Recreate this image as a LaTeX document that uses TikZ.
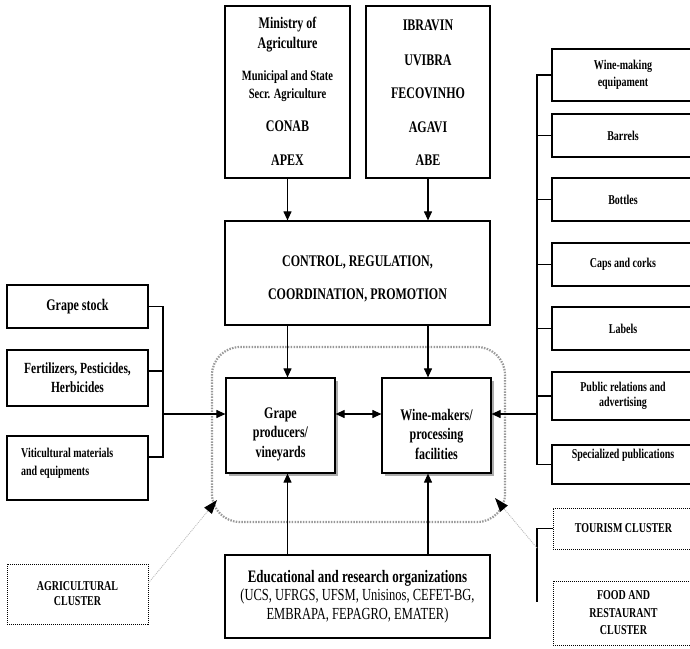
\documentclass[tikz,border=0pt]{standalone}
\usepackage{fontspec}
\setmainfont{Liberation Serif}[FakeStretch=0.74]
\usetikzlibrary{arrows.meta,shadows,calc}
\begin{document}
\begin{tikzpicture}[x=1pt,y=-1pt,
  box/.style={draw,line width=1.2pt,fill=white,inner sep=0pt,align=center},
  tx/.style={inner sep=0pt,align=center},
  ln/.style={line width=1.1pt},
  arr/.style={line width=1.1pt,-{Triangle[length=9pt,width=8pt]}},
  darr/.style={line width=1.1pt,{Triangle[length=9pt,width=8pt]}-{Triangle[length=9pt,width=8pt]}},
  clbox/.style={draw,line width=0.9pt,dash pattern=on 1pt off 1pt,inner sep=0pt,align=center},
  clline/.style={draw=gray!55,line width=0.8pt,dash pattern=on 1pt off 1pt},
  shad/.style={drop shadow={shadow xshift=2.5pt,shadow yshift=-2.5pt,fill=gray!65,opacity=1}},
  fa/.style={font=\fontsize{16.2}{18}\selectfont\bfseries},
  fb/.style={font=\fontsize{14.2}{16}\selectfont\bfseries},
  fr/.style={font=\fontsize{13.5}{15.5}\selectfont\bfseries},
]
\useasboundingbox (0,0) rectangle (690,648);
\clip (0,0) rectangle (690,648);

% cluster outline
\node[draw=black!40,line width=2.2pt,dash pattern=on 1.5pt off 1.3pt,rounded corners=28pt,
      minimum width=293pt,minimum height=175pt,inner sep=0pt] (core) at (358.5,434.5) {};

% top boxes
\node[box,minimum width=125pt,minimum height=172pt] (min) at (287.5,92) {};
\node[tx,fa] (m1) at (287.5,25) {Ministry of};
\node[tx,fa] (m2) at (287.5,45) {Agriculture};
\node[tx,fb] (m3) at (287.5,77) {Municipal and State};
\node[tx,fb] (m4) at (287.5,95) {Secr. Agriculture};
\node[tx,fa] (m5) at (287.5,126) {CONAB};
\node[tx,fa] (m6) at (287.5,160) {APEX};

\node[box,minimum width=124pt,minimum height=172pt] (ibr) at (428,92) {};
\node[tx,fa] (i1) at (428,25) {IBRAVIN};
\node[tx,fa] (i2) at (428,60) {UVIBRA};
\node[tx,fa] (i3) at (428,93) {FECOVINHO};
\node[tx,fa] (i4) at (428,127) {AGAVI};
\node[tx,fa] (i5) at (428,160) {ABE};

% control
\node[box,minimum width=265pt,minimum height=104pt] (ctrl) at (357.5,273) {};
\node[tx,font=\fontsize{16.2}{33}\selectfont\bfseries] (ctrlt) at (357.5,279)
  {CONTROL, REGULATION,\\COORDINATION, PROMOTION};

% core boxes
\node[box,shad,minimum width=109pt,minimum height=95pt] (grape) at (280.5,425.5) {};
\node[tx,font=\fontsize{16.2}{19.5}\selectfont\bfseries] (grapet) at (280.5,434) {Grape\\producers/\\vineyards};
\node[box,shad,minimum width=109pt,minimum height=95pt] (wine) at (436.5,425.5) {};
\node[tx,font=\fontsize{16.2}{19.5}\selectfont\bfseries] (winet) at (436.5,434) {Wine-makers/\\processing\\facilities};

% left boxes
\node[box,minimum width=141pt,minimum height=43pt,font=\fontsize{16.2}{18}\selectfont\bfseries] (stock) at (77.5,306.5) {Grape stock};
\node[box,minimum width=141pt,minimum height=56pt,font=\fontsize{15.5}{19}\selectfont\bfseries] (fert) at (77.5,378) {Fertilizers, Pesticides,\\Herbicides};
\node[box,minimum width=141pt,minimum height=64pt] (viti) at (77.5,468) {};
\node[tx,align=left,anchor=west,font=\fontsize{13.5}{18}\selectfont\bfseries] (vitit) at (21,463) {Viticultural materials\\and equipments};

% right boxes
\node[box,minimum width=142pt,minimum height=52pt,font=\fontsize{13.5}{17}\selectfont\bfseries] (r1) at (623,75) {Wine-making\\equipament};
\node[box,minimum width=142pt,minimum height=43pt,fr] (r2) at (623,135.5) {Barrels};
\node[box,minimum width=142pt,minimum height=43pt,fr] (r3) at (623,199.5) {Bottles};
\node[box,minimum width=142pt,minimum height=43pt,fr] (r4) at (623,264.5) {Caps and corks};
\node[box,minimum width=142pt,minimum height=43pt,fr] (r5) at (623,328.5) {Labels};
\node[box,minimum width=142pt,minimum height=48pt,fr] (r6) at (623,396) {Public relations and\\advertising};
\node[box,minimum width=142pt,minimum height=39pt] (r7) at (623,464.5) {};
\node[tx,fr] (r7t) at (623,455) {Specialized publications};

% education
\node[box,minimum width=265pt,minimum height=83pt,font=\fontsize{16.9}{18.5}\selectfont] (edu) at (357.5,596.5)
  {{\fontsize{17.5}{18.5}\selectfont\bfseries Educational and research organizations}\\(UCS, UFRGS, UFSM, Unisinos, CEFET-BG,\\EMBRAPA, FEPAGRO, EMATER)};

% cluster boxes
\node[clbox,minimum width=141pt,minimum height=60pt,font=\fontsize{13.5}{15}\selectfont\bfseries] (agri) at (77.5,594) {AGRICULTURAL\\CLUSTER};
\node[clbox,minimum width=141pt,minimum height=41pt,font=\fontsize{13.5}{15}\selectfont\bfseries] (tour) at (623.5,528.5) {TOURISM CLUSTER};
\node[clbox,minimum width=141pt,minimum height=64pt,font=\fontsize{13.5}{17.5}\selectfont\bfseries] (food) at (623.5,613) {FOOD AND\\RESTAURANT\\CLUSTER};

% helper coordinates
\coordinate (lev) at (0,414);
\coordinate (lb) at (163,0);
\coordinate (rb) at (537,0);
\coordinate (fertc) at ([yshift=7pt]fert.east);
\coordinate (vitc) at ([yshift=11pt]viti.east);
\coordinate (tb) at (537,602);
\coordinate (ts) at (537,548);
\coordinate (tourtip) at (495,498);
\coordinate (agtip) at (217,500);
\coordinate (agc) at ([yshift=11pt]agri.east);
% arrow-head corners (tip length 14, half width 5)
\coordinate (agb) at (208.05,510.77);
\coordinate (agb1) at (211.9,513.9);
\coordinate (agb2) at (204.2,507.6);
\coordinate (tourb) at (504.0,508.7);
\coordinate (tourb1) at (507.8,505.5);
\coordinate (tourb2) at (500.2,511.9);

% top arrows
\draw[arr] (min.south) -- (min.south |- ctrl.north);
\draw[arr] (ibr.south) -- (ibr.south |- ctrl.north);
\draw[arr] (ctrl.south -| min.south) -- (grape.north -| min.south);
\draw[arr] (ctrl.south -| ibr.south) -- (wine.north -| ibr.south);
\draw[arr] (edu.north -| min.south) -- (grape.south -| min.south);
\draw[arr] (edu.north -| ibr.south) -- (wine.south -| ibr.south);
\draw[darr] (grape.east |- lev) -- (wine.west |- lev);

% left bus
\draw[ln] (stock.east) -- (stock.east -| lb) -- (lb |- vitc) -- (vitc);
\draw[ln] (fertc) -- (fertc -| lb);
\draw[arr] (lb |- lev) -- (grape.west |- lev);

% right bus
\draw[ln] (r1.west) -- (r1.west -| rb) -- (r7.west -| rb) -- (r7.west);
\foreach \r in {r2,r3,r4,r5,r6} \draw[ln] (\r.west) -- (\r.west -| rb);
\draw[arr] (rb |- lev) -- (wine.east |- lev);

% tourism connector
\draw[ln] (tour.west) -- (tour.west -| tb) -- (tb);

% cluster arrows
\draw[clline] (agc) -- (agb);
\fill[black] (agtip) -- (agb1) -- (agb2) -- cycle;
\draw[clline] (ts) -- (tourb);
\fill[black] (tourtip) -- (tourb1) -- (tourb2) -- cycle;
\end{tikzpicture}
\end{document}
